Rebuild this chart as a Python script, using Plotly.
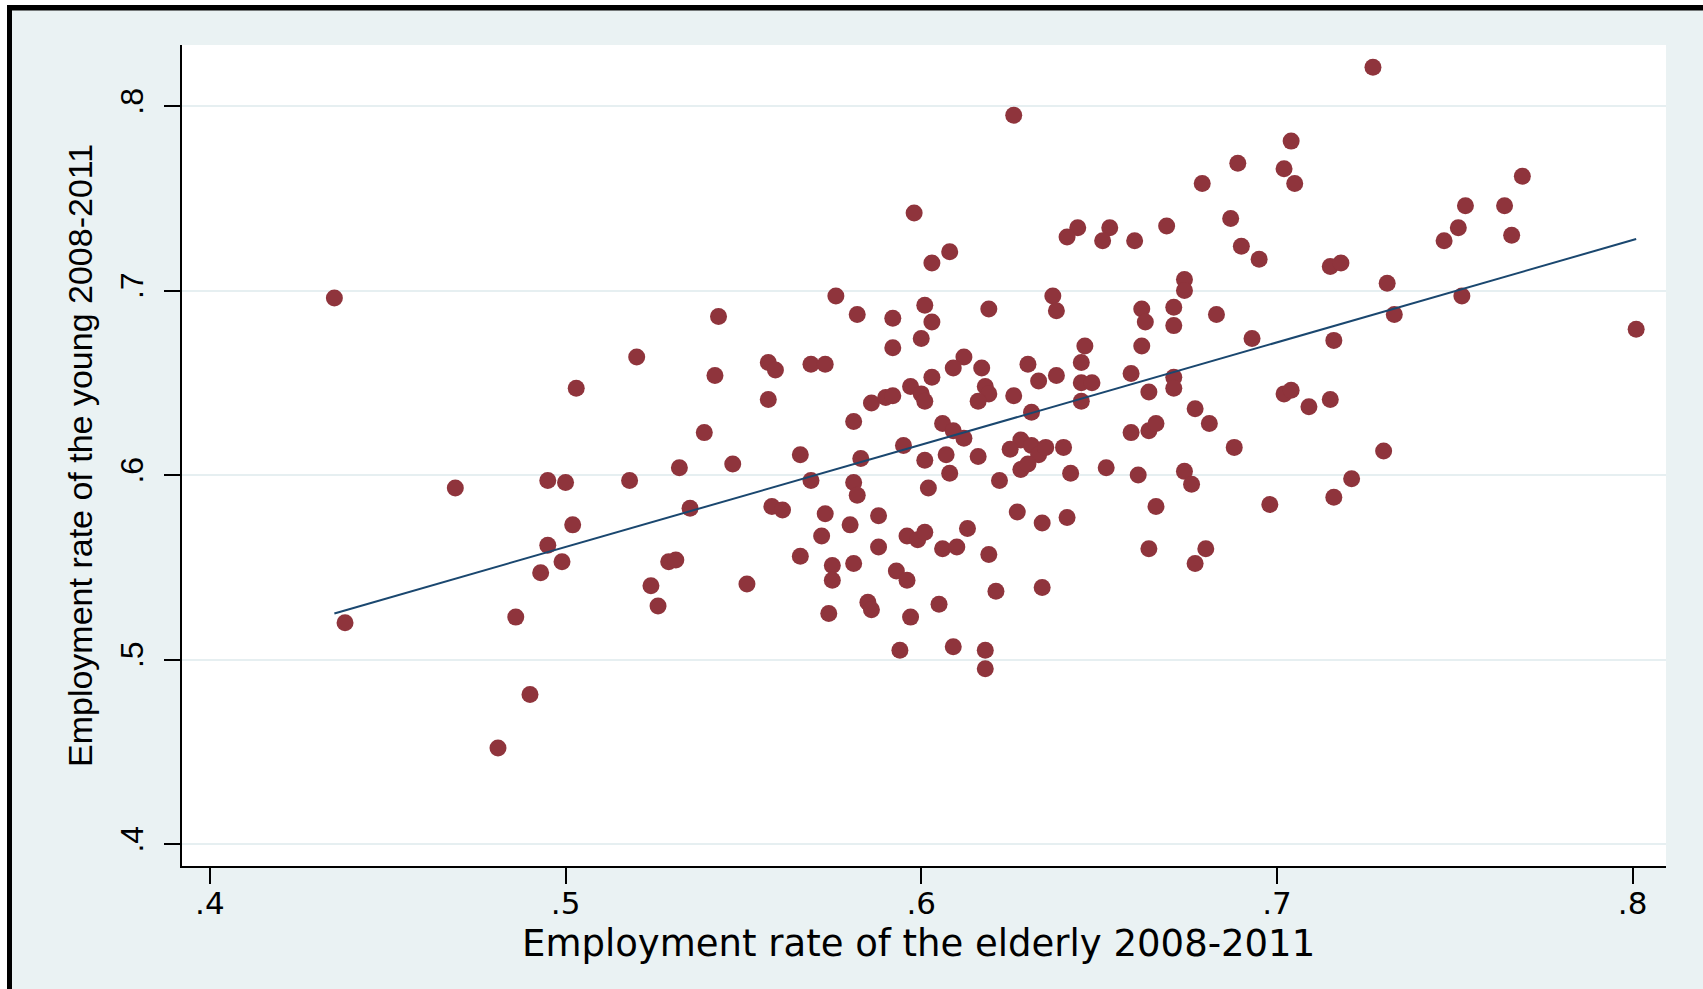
import numpy as np
import plotly.graph_objects as go

# Employment rate of the elderly (x) and of the young (y), 2008-2011
elderly = [
    0.727, 0.626, 0.435, 0.704, 0.689, 0.702, 0.705, 0.679, 0.769, 0.764,
    0.753, 0.751, 0.747, 0.766, 0.598, 0.687, 0.690, 0.695, 0.669, 0.644,
    0.641, 0.653, 0.651, 0.660, 0.608, 0.603, 0.715, 0.718, 0.674, 0.674,
    0.731, 0.752, 0.576, 0.637, 0.638, 0.801, 0.733, 0.683, 0.619, 0.601,
    0.582, 0.592, 0.603, 0.543, 0.662, 0.663, 0.671, 0.671, 0.716, 0.693,
    0.600, 0.592, 0.646, 0.662, 0.520, 0.557, 0.559, 0.569, 0.573, 0.612,
    0.609, 0.617, 0.630, 0.645, 0.542, 0.638, 0.633, 0.603, 0.645, 0.659,
    0.671, 0.671, 0.664, 0.648, 0.503, 0.597, 0.600, 0.618, 0.619, 0.626,
    0.557, 0.586, 0.590, 0.592, 0.601, 0.616, 0.702, 0.704, 0.709, 0.715,
    0.645, 0.677, 0.631, 0.581, 0.681, 0.659, 0.664, 0.666, 0.606, 0.609,
    0.612, 0.539, 0.628, 0.631, 0.625, 0.633, 0.635, 0.640, 0.595, 0.688,
    0.730, 0.566, 0.583, 0.607, 0.601, 0.616, 0.547, 0.532, 0.628, 0.630,
    0.642, 0.652, 0.608, 0.661, 0.674, 0.676, 0.581, 0.582, 0.602, 0.622,
    0.518, 0.495, 0.500, 0.469, 0.721, 0.569, 0.716, 0.698, 0.535, 0.558,
    0.561, 0.573, 0.588, 0.627, 0.641, 0.634, 0.666, 0.502, 0.580, 0.613,
    0.596, 0.599, 0.601, 0.572, 0.495, 0.606, 0.610, 0.588, 0.619, 0.664,
    0.680, 0.566, 0.499, 0.529, 0.531, 0.581, 0.575, 0.593, 0.677, 0.493,
    0.596, 0.575, 0.524, 0.551, 0.634, 0.621, 0.526, 0.585, 0.586, 0.605,
    0.574, 0.486, 0.597, 0.438, 0.594, 0.609, 0.618, 0.618, 0.490, 0.481,
]
young = [
    0.821, 0.795, 0.696, 0.781, 0.769, 0.766, 0.758, 0.758, 0.762, 0.746,
    0.746, 0.734, 0.727, 0.730, 0.742, 0.739, 0.724, 0.717, 0.735, 0.734,
    0.729, 0.734, 0.727, 0.727, 0.721, 0.715, 0.713, 0.715, 0.706, 0.700,
    0.704, 0.697, 0.697, 0.697, 0.689, 0.679, 0.687, 0.687, 0.690, 0.692,
    0.687, 0.685, 0.683, 0.686, 0.690, 0.683, 0.691, 0.681, 0.673, 0.674,
    0.674, 0.669, 0.670, 0.670, 0.664, 0.661, 0.657, 0.660, 0.660, 0.664,
    0.658, 0.658, 0.660, 0.661, 0.654, 0.654, 0.651, 0.653, 0.650, 0.655,
    0.653, 0.647, 0.645, 0.650, 0.647, 0.648, 0.644, 0.648, 0.644, 0.643,
    0.641, 0.639, 0.642, 0.643, 0.640, 0.640, 0.644, 0.646, 0.637, 0.641,
    0.640, 0.636, 0.634, 0.629, 0.628, 0.623, 0.624, 0.628, 0.628, 0.624,
    0.620, 0.623, 0.619, 0.616, 0.614, 0.611, 0.615, 0.615, 0.616, 0.615,
    0.613, 0.611, 0.609, 0.611, 0.608, 0.610, 0.606, 0.604, 0.603, 0.606,
    0.601, 0.604, 0.601, 0.600, 0.602, 0.595, 0.596, 0.589, 0.593, 0.597,
    0.597, 0.597, 0.596, 0.593, 0.598, 0.597, 0.588, 0.584, 0.582, 0.583,
    0.581, 0.579, 0.578, 0.580, 0.577, 0.574, 0.583, 0.573, 0.573, 0.571,
    0.567, 0.565, 0.569, 0.567, 0.562, 0.560, 0.561, 0.561, 0.557, 0.560,
    0.560, 0.556, 0.553, 0.553, 0.554, 0.552, 0.551, 0.548, 0.552, 0.547,
    0.543, 0.543, 0.540, 0.541, 0.539, 0.537, 0.529, 0.531, 0.527, 0.530,
    0.525, 0.523, 0.523, 0.520, 0.505, 0.507, 0.505, 0.495, 0.481, 0.452,
]

# fitted line (lfit)
fit_intercept = 0.2837
fit_slope = 0.5546

x_ticks = [0.4, 0.5, 0.6, 0.7, 0.8]
x_tick_labels = [".4", ".5", ".6", ".7", ".8"]
y_ticks = [0.4, 0.5, 0.6, 0.7, 0.8]
y_tick_labels = [".4", ".5", ".6", ".7", ".8"]

x_title = "Employment rate of the elderly 2008-2011"
y_title = "Employment rate of the young 2008-2011"

xa = np.array(elderly)
fit_x = np.array([xa.min(), xa.max()])
fit_y = fit_intercept + fit_slope * fit_x

W, H = 1703, 989
L, R, T, B = 182, 37, 45, 123
pw, ph = W - L - R, H - T - B


def px(x):
    return (x - L) / pw


def py(y):
    return (H - B - y) / ph


BG = "#eaf2f3"
MAROON = "#8f343c"
NAVY = "#1a476f"

fig = go.Figure()
fig.add_trace(go.Scatter(
    x=elderly, y=young, mode="markers",
    marker=dict(color=MAROON, size=17, line=dict(width=0)),
    showlegend=False, hoverinfo="skip",
))
fig.add_trace(go.Scatter(
    x=fit_x, y=fit_y, mode="lines",
    line=dict(color=NAVY, width=2),
    showlegend=False, hoverinfo="skip",
))

shapes = [
    dict(type="rect", xref="paper", yref="paper", x0=px(0), x1=px(W), y0=py(5), y1=py(0),
         fillcolor="white", line=dict(width=0), layer="above"),
    dict(type="rect", xref="paper", yref="paper", x0=px(0), x1=px(7), y0=py(H), y1=py(0),
         fillcolor="white", line=dict(width=0), layer="above"),
    dict(type="rect", xref="paper", yref="paper", x0=px(7), x1=px(W), y0=py(10.5), y1=py(5),
         fillcolor="black", line=dict(width=0), layer="above"),
    dict(type="rect", xref="paper", yref="paper", x0=px(7), x1=px(12), y0=py(H), y1=py(5),
         fillcolor="black", line=dict(width=0), layer="above"),
]

annotations = [
    dict(text=x_title, xref="paper", yref="paper", x=px(918), y=py(943),
         xanchor="center", yanchor="middle", showarrow=False,
         font=dict(family="DejaVu Sans", size=37, color="black")),
    dict(text=y_title, xref="paper", yref="paper", x=px(80), y=py(456),
         xanchor="center", yanchor="middle", textangle=-90, showarrow=False,
         font=dict(family="Liberation Sans, Arial", size=34, color="black")),
]

fig.update_layout(
    width=W, height=H,
    margin=dict(l=L, r=R, t=T, b=B, pad=0),
    paper_bgcolor=BG, plot_bgcolor="white",
    shapes=shapes, annotations=annotations,
    xaxis=dict(
        range=[0.39216, 0.80939], tickvals=x_ticks, ticktext=x_tick_labels,
        showgrid=False, zeroline=False, showline=True, linecolor="black", linewidth=2,
        ticks="outside", ticklen=16, tickwidth=2, tickcolor="black",
        tickfont=dict(family="DejaVu Sans", size=31, color="black"),
        ticklabelstandoff=-7,
    ),
    yaxis=dict(
        range=[0.3881, 0.8331], tickvals=y_ticks, ticktext=y_tick_labels,
        showgrid=True, gridcolor="#e6eff1", gridwidth=2,
        zeroline=False, showline=True, linecolor="black", linewidth=2,
        ticks="outside", ticklen=16, tickwidth=2, tickcolor="black",
        tickangle=-90,
        tickfont=dict(family="Liberation Sans, Arial", size=32, color="black"),
        ticklabelstandoff=8,
    ),
)

fig.write_html("out.html")
